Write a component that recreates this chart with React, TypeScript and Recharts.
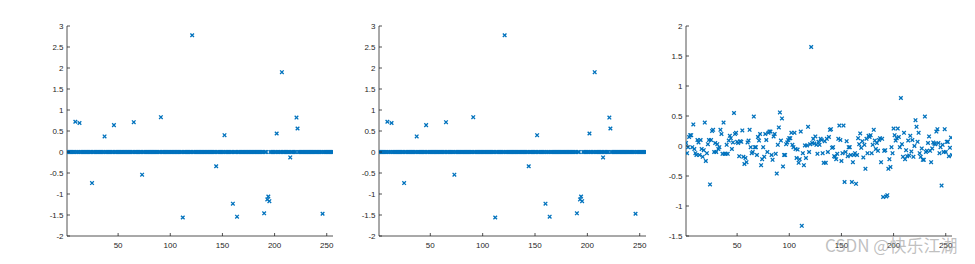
import React from 'react';
import { ScatterChart, Scatter, XAxis, YAxis } from 'recharts';

const N = 256;
const BLUE = '#0072BD';
const AX = '#262626';
const FONT = '"Liberation Sans", Arial, sans-serif';

// sparse signal (panels 1 and 2): index -> value, everything else is 0
const spikeIndex = [9, 13, 25, 37, 46, 65, 73, 91, 112, 121, 144, 152, 160, 164, 190, 193, 194, 195, 202, 207, 215, 221, 222, 246];
const spikeValue = [0.72, 0.69, -0.74, 0.37, 0.64, 0.71, -0.54, 0.83, -1.56, 2.78, -0.34, 0.40, -1.23, -1.54, -1.46, -1.13, -1.06, -1.17, 0.44, 1.90, -0.13, 0.82, 0.56, -1.47];

// noisy signal (panel 3)
const noisyValues = [
  0.05, -0.12, -0.02, 0.15, 0.18, 0.18, -0.02, 0.36, -0.05, -0.12,
  -0.15, 0.1, 0.06, -0.15, 0.1, -0.05, -0.18, -0.07, 0.39,
  -0.25, -0.12, 0.03, 0.1, -0.64, 0.1, 0.25, 0.27, -0.1, 0.05,
  -0.1, 0.03, -0.05, -0.02, 0.27, 0.2, -0.13, 0.39, -0.13, -0.13,
  0.02, -0.13, 0.09, 0.17, 0.13, -0.05, 0.06, 0.55, 0.2, 0.22,
  0.07, 0.05, -0.17, 0.08, 0.07, 0.26, -0.18, -0.3, -0.2, -0.27,
  0.06, 0.09, 0.27, -0.02, -0.12, -0.1, 0.49, -0.02, -0.02, -0.15,
  0.15, 0.09, 0.2, -0.32, -0.22, -0.02, -0.18, 0.2, 0.1, -0.1,
  0.22, 0.24, 0.24, -0.15, -0.23, 0.16, 0.2, -0.13, -0.46,
  0.02, 0.31, 0.56, 0.09, 0.46, -0.34, -0.15, -0.15, 0.03, 0.06,
  0.1, 0.13, 0.13, 0.22, 0.02, -0.02, 0.22, -0.05, -0.2, -0.06,
  -0.28, -0.22, 0.24, -1.33, -0.12, -0.32, 0.01, -0.2, 0.01, 0.32,
  -0.1, 0.03, 1.65, 0.05, 0.12, 0.04, 0.16, 0.02, -0.13, 0.07, 0.02,
  0.12, 0.1, -0.12, -0.28, 0.08, -0.28, 0.12, -0.1, 0.15,
  0.27, 0.28, -0.03, -0.02, -0.17, -0.18, -0.22, -0.13, 0.12,
  0.34, 0.1, -0.25, -0.12, 0.34, -0.6, -0.1, 0.08, -0.17, -0.02,
  -0.02, -0.15, -0.6, -0.27, -0.15, -0.12, -0.63, -0.15, 0.13, 0.03,
  0.21, -0.03, 0.08, -0.19, 0.02, -0.38, 0.12, -0.12, 0.17, 0.15,
  0.18, -0.12, 0.02, 0.27, 0.09, -0.05, 0.05, -0.08, 0.1, 0.13,
  -0.27, 0.12, -0.85, -0.08, -0.07, -0.84, -0.82, -0.38, -0.22, -0.35,
  -0.02, -0.12, 0.29, 0.18, 0.09, 0.13, 0.29, 0.15, -0.02, 0.8,
  0.03, -0.18, 0.22, -0.22, -0.07, -0.17, 0.09, -0.16, 0.17, -0.09,
  0.1, -0.18, 0.0, 0.43, 0.32, 0.07, 0.22, -0.12, -0.18, -0.04,
  -0.23, -0.23, 0.49, -0.1, -0.08, 0.05, 0.16, -0.08, -0.27, -0.04,
  0.06, 0.04, 0.03, 0.24, 0.28, 0.05, -0.12, -0.02, -0.66, 0.02,
  -0.1, 0.28, -0.1, 0.07, 0.07, -0.17,
  -0.03, 0.14, -0.15,
];

const xTicks = [50, 100, 150, 200, 250];
const yTicksSparse = [-2, -1.5, -1, -0.5, 0, 0.5, 1, 1.5, 2, 2.5, 3];
const yTicksNoisy = [-1.5, -1, -0.5, 0, 0.5, 1, 1.5, 2];

const sparseData = Array.from({ length: N }, (_, k) => {
  const i = k + 1;
  const j = spikeIndex.indexOf(i);
  return { i, v: j >= 0 ? spikeValue[j] : 0 };
});
const noisyData = noisyValues.map((v, k) => ({ i: k + 1, v }));

const XMark = (p: any) => {
  const { cx, cy } = p;
  if (cx == null || cy == null) return null;
  const r = 1.8;
  return (
    <g>
      <line x1={cx - r} y1={cy - r} x2={cx + r} y2={cy + r} stroke={BLUE} strokeWidth={1.3} />
      <line x1={cx - r} y1={cy + r} x2={cx + r} y2={cy - r} stroke={BLUE} strokeWidth={1.3} />
    </g>
  );
};

const TL = 3;
const textStyle = { fontSize: 8, fontFamily: FONT, fill: AX };

const BottomTick = (p: any) => (
  <g>
    <line x1={p.x} y1={p.y} x2={p.x} y2={p.y - TL} stroke={AX} strokeWidth={0.8} />
    <text x={p.x} y={p.y + 12} textAnchor="middle" style={textStyle}>{p.payload.value}</text>
  </g>
);
const TopTick = (p: any) => (
  <line x1={p.x} y1={p.y} x2={p.x} y2={p.y + TL} stroke={AX} strokeWidth={0.8} />
);
const LeftTick = (p: any) => (
  <g>
    <line x1={p.x} y1={p.y} x2={p.x + TL} y2={p.y} stroke={AX} strokeWidth={0.8} />
    <text x={p.x - 3.5} y={p.y + 3} textAnchor="end" style={textStyle}>{p.payload.value}</text>
  </g>
);
const RightTick = (p: any) => (
  <line x1={p.x} y1={p.y} x2={p.x - TL} y2={p.y} stroke={AX} strokeWidth={0.8} />
);

function Panel({ plotLeft, plotWidth, data, yDomain, yTicks }: any) {
  const yW = 40;
  const mr = 10;
  const axisLine = { stroke: AX, strokeWidth: 0.8 };
  return (
    <div style={{ position: 'absolute', left: plotLeft - yW, top: 0 }}>
      <ScatterChart width={yW + plotWidth + mr} height={264} margin={{ top: 26, right: mr, bottom: 0, left: 0 }}>
        <XAxis xAxisId="b" dataKey="i" type="number" domain={[1, 256]} ticks={xTicks} height={28}
          tickSize={0} tickMargin={0} tickLine={false} axisLine={axisLine} tick={BottomTick} interval={0} allowDataOverflow />
        <XAxis xAxisId="t" orientation="top" type="number" domain={[1, 256]} ticks={xTicks} height={0}
          tickSize={0} tickMargin={0} tickLine={false} axisLine={axisLine} tick={TopTick} interval={0} allowDataOverflow />
        <YAxis yAxisId="l" dataKey="v" type="number" domain={yDomain} ticks={yTicks} width={yW}
          tickSize={0} tickMargin={0} tickLine={false} axisLine={axisLine} tick={LeftTick} interval={0} allowDataOverflow />
        <YAxis yAxisId="r" orientation="right" type="number" domain={yDomain} ticks={yTicks} width={0}
          tickSize={0} tickMargin={0} tickLine={false} axisLine={axisLine} tick={RightTick} interval={0} allowDataOverflow />
        <Scatter xAxisId="b" yAxisId="l" data={data} dataKey="v" shape={(p: any) => <XMark {...p} />} isAnimationActive={false} />
      </ScatterChart>
    </div>
  );
}

export default function App() {
  return (
    <div style={{ position: 'absolute', left: 0, top: 0, width: 975, height: 264, background: '#fff', overflow: 'hidden' }}>
      <Panel plotLeft={67} plotWidth={266} data={sparseData} yDomain={[-2, 3]} yTicks={yTicksSparse} />
      <Panel plotLeft={379} plotWidth={267} data={sparseData} yDomain={[-2, 3]} yTicks={yTicksSparse} />
      <Panel plotLeft={686} plotWidth={266} data={noisyData} yDomain={[-1.5, 2]} yTicks={yTicksNoisy} />
      <div style={{ position: 'absolute', left: 825, top: 236, fontSize: 17, lineHeight: 1, whiteSpace: 'nowrap',
        fontFamily: '"Noto Sans CJK SC", "Noto Sans", sans-serif', color: 'rgba(150,150,150,0.6)' }}>
        CSDN @快乐江湖
      </div>
    </div>
  );
}
